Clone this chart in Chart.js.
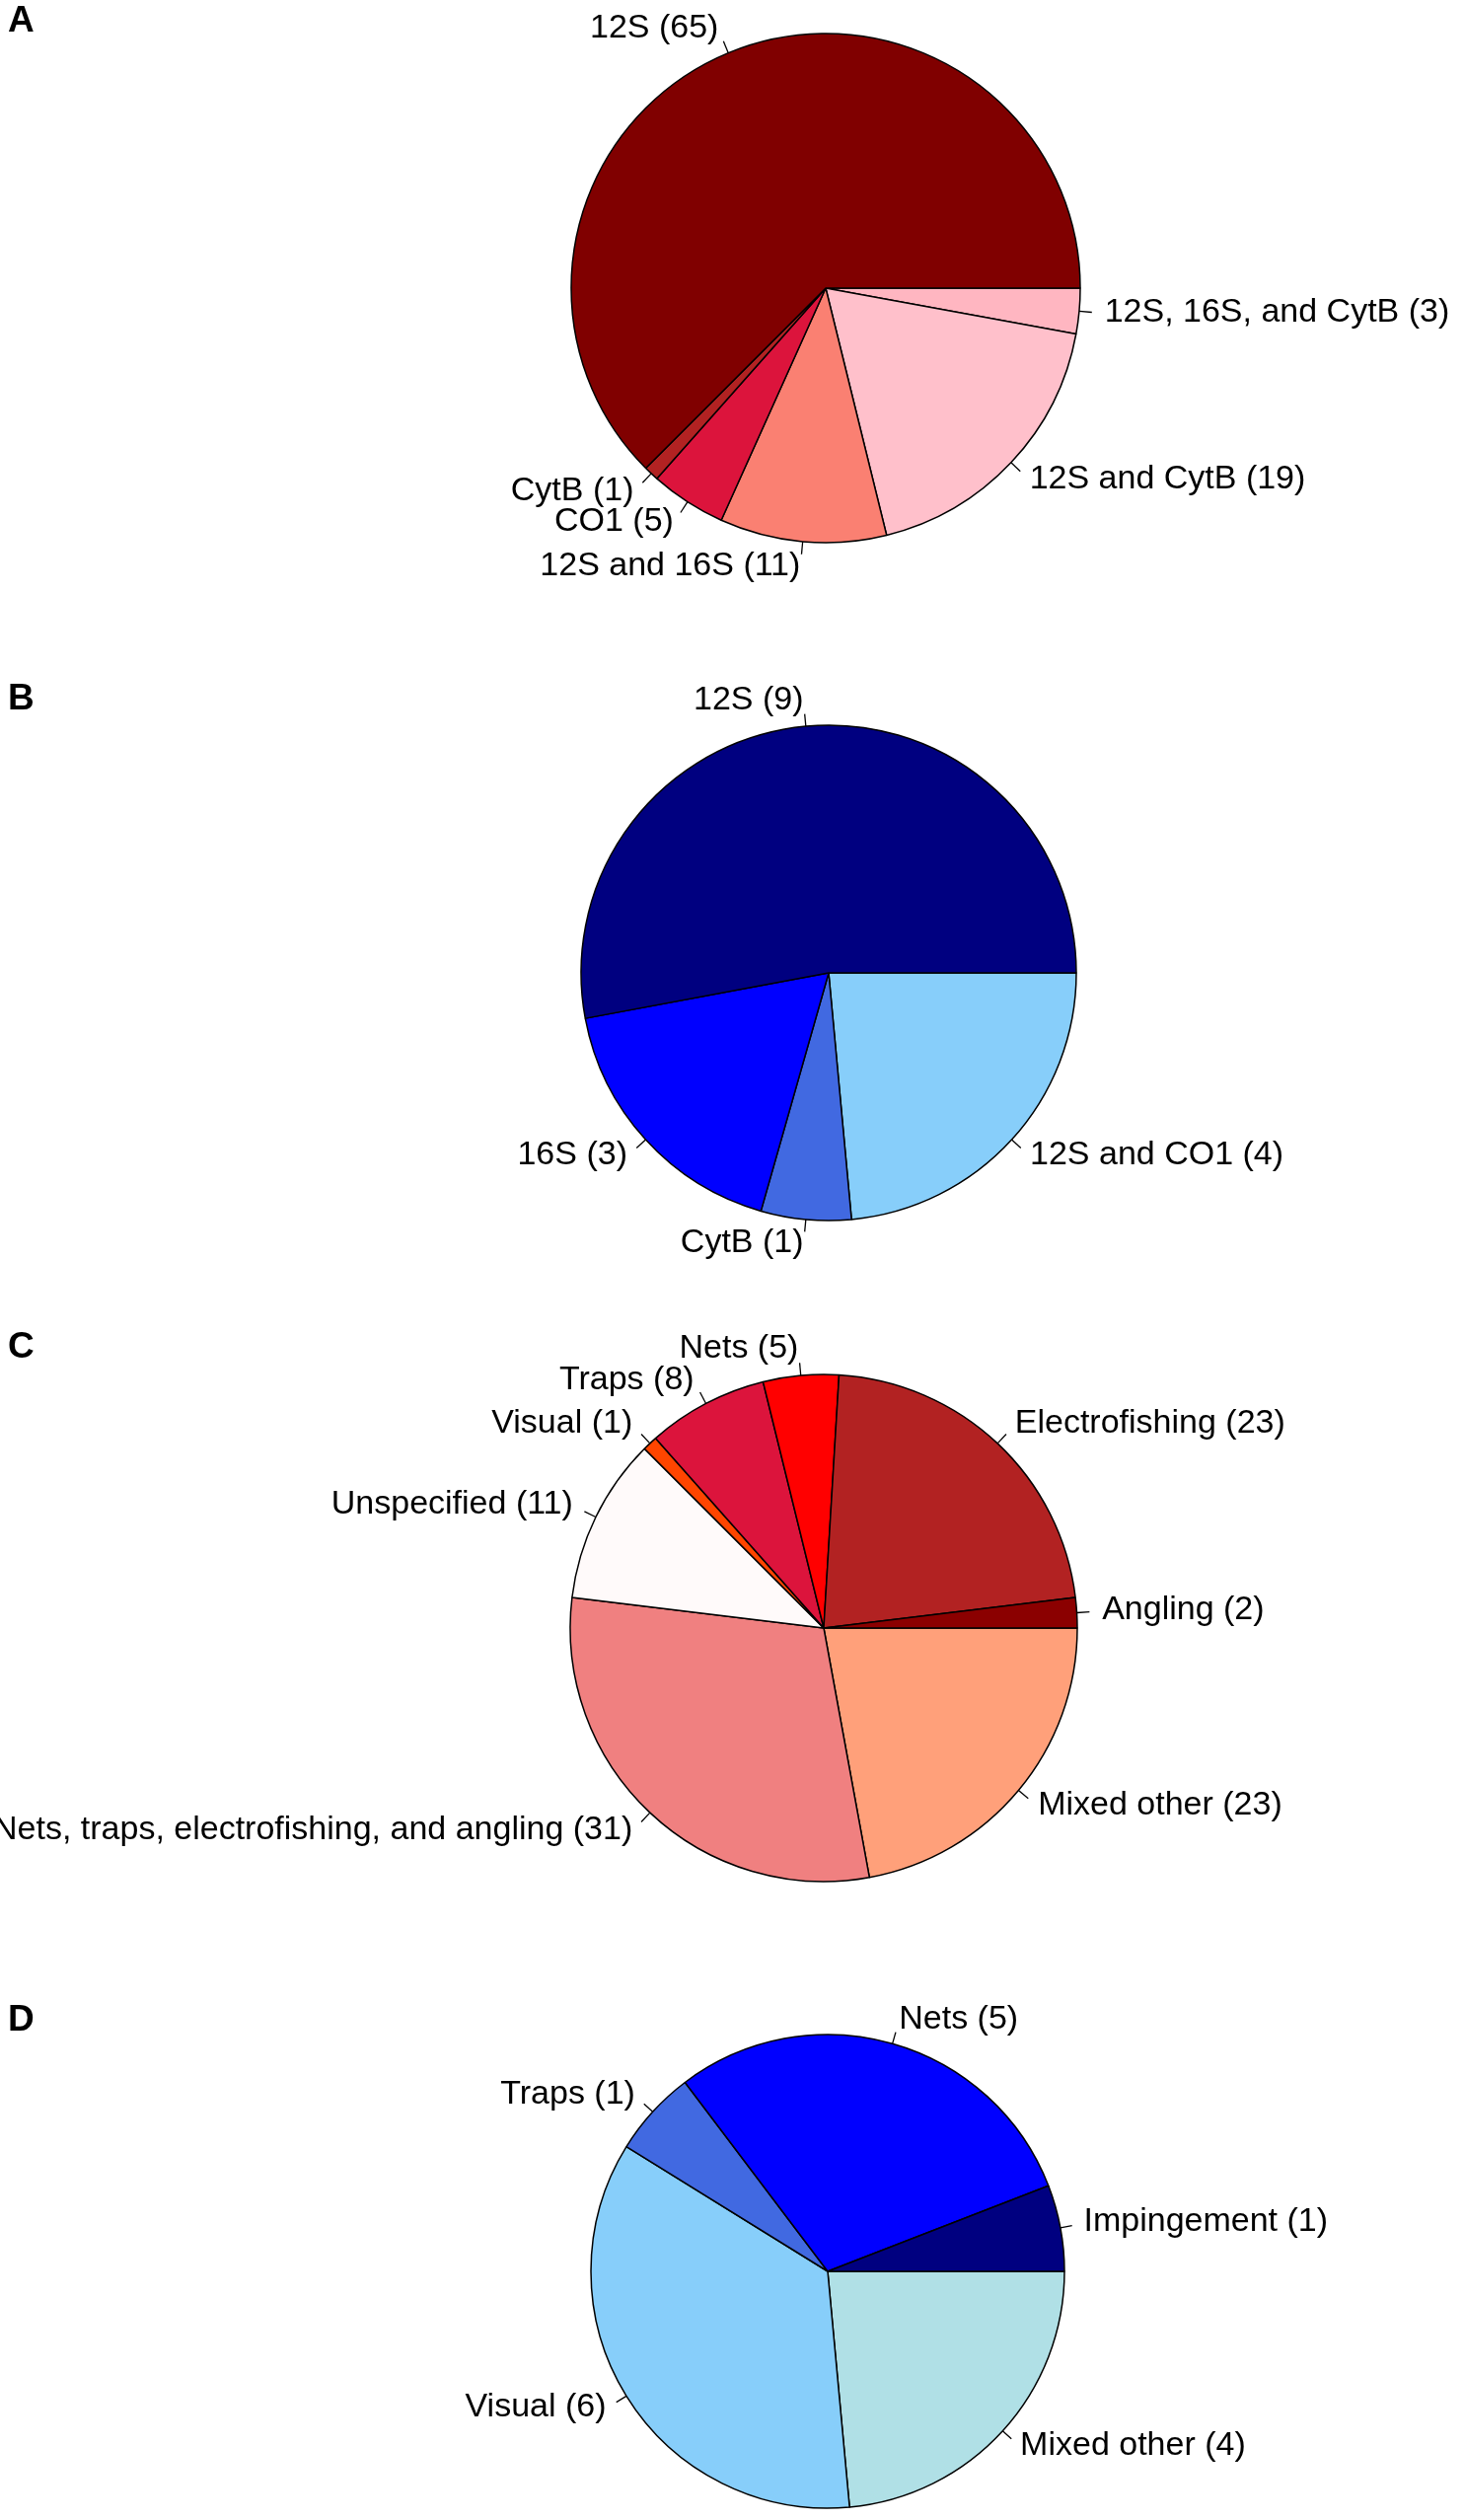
<!DOCTYPE html>
<html>
<head>
<meta charset="utf-8">
<script src="https://cdn.jsdelivr.net/npm/chart.js@4.4.1/dist/chart.umd.min.js"></script>
<style>
  body { margin: 0; background: #fff; }
  canvas { position: absolute; left: 0; }
</style>
</head>
<body>
<canvas id="chartA" width="1484" height="650" style="top:0px"></canvas>
<canvas id="chartB" width="1484" height="650" style="top:650px"></canvas>
<canvas id="chartC" width="1484" height="650" style="top:1300px"></canvas>
<canvas id="chartD" width="1484" height="604" style="top:1950px"></canvas>
<script>
// slices listed clockwise starting at 3 o'clock (same look as R's pie going counter-clockwise)

// A - markers, eDNA studies
const markersA = ["12S, 16S, and CytB", "12S and CytB", "12S and 16S", "CO1", "CytB", "12S"];
const countsA = [3, 19, 11, 5, 1, 65];
const colorsA = ["#FFB6C1", "#FFC0CB", "#FA8072", "#DC143C", "#B22222", "#800000"];

// B - markers
const markersB = ["12S and CO1", "CytB", "16S", "12S"];
const countsB = [4, 1, 3, 9];
const colorsB = ["#87CEFA", "#4169E1", "#0000FF", "#000080"];

// C - sampling methods
const methodsC = ["Mixed other", "Nets, traps, electrofishing, and angling", "Unspecified", "Visual", "Traps", "Nets", "Electrofishing", "Angling"];
const countsC = [23, 31, 11, 1, 8, 5, 23, 2];
const colorsC = ["#FFA07A", "#F08080", "#FFFAFA", "#FF4500", "#DC143C", "#FF0000", "#B22222", "#8B0000"];

// D - sampling methods
const methodsD = ["Mixed other", "Visual", "Traps", "Nets", "Impingement"];
const countsD = [4, 6, 1, 5, 1];
const colorsD = ["#B0E0E6", "#87CEFA", "#4169E1", "#0000FF", "#000080"];

const FONT = "'Liberation Sans', Arial, Helvetica, sans-serif";

// labels outside the pie with a short tick, like base R pie()
const pieLabels = {
  id: "pieLabels",
  afterDraw(chart, args, opts) {
    const ctx = chart.ctx;
    const meta = chart.getDatasetMeta(0);
    const values = chart.data.datasets[0].data;
    ctx.save();
    ctx.strokeStyle = "#000";
    ctx.fillStyle = "#000";
    ctx.lineWidth = 1.3;
    ctx.font = "34px " + FONT;
    ctx.textBaseline = "alphabetic";
    meta.data.forEach((arc, i) => {
      const p = arc.getProps(["x", "y", "startAngle", "endAngle", "outerRadius"], true);
      const mid = (p.startAngle + p.endAngle) / 2;
      const c = Math.cos(mid);
      const s = Math.sin(mid);
      const r = p.outerRadius;
      ctx.beginPath();
      ctx.moveTo(p.x + r * c, p.y + r * s);
      ctx.lineTo(p.x + 1.05 * r * c, p.y + 1.05 * r * s);
      ctx.stroke();
      ctx.textAlign = c < 0 ? "right" : "left";
      ctx.fillText(chart.data.labels[i] + " (" + values[i] + ")", p.x + 1.1 * r * c, p.y + 1.1 * r * s + 8);
    });
    // panel letter
    ctx.font = "bold 37px " + FONT;
    ctx.textAlign = "left";
    ctx.fillText(opts.letter, 8, opts.letterY);
    ctx.restore();
  },
};

function makePie(id, names, counts, colors, box) {
  const canvas = document.getElementById(id);
  const W = canvas.width;
  const H = canvas.height;
  new Chart(canvas.getContext("2d"), {
    type: "pie",
    data: {
      labels: names,
      datasets: [
        {
          data: counts,
          backgroundColor: colors,
          borderColor: "#000",
          borderWidth: 1.5,
          clip: false,
        },
      ],
    },
    options: {
      responsive: false,
      animation: false,
      events: [],
      rotation: 90,
      radius: box.r,
      layout: {
        padding: {
          left: Math.max(0, 2 * box.cx - W),
          right: Math.max(0, W - 2 * box.cx),
          top: Math.max(0, 2 * box.cy - H),
          bottom: Math.max(0, H - 2 * box.cy),
        },
      },
      plugins: {
        legend: { display: false },
        tooltip: { enabled: false },
        pieLabels: { letter: box.letter, letterY: box.letterY },
      },
    },
    plugins: [pieLabels],
  });
}

makePie("chartA", markersA, countsA, colorsA, { cx: 837, cy: 292, r: 258, letter: "A", letterY: 32 });
makePie("chartB", markersB, countsB, colorsB, { cx: 840, cy: 336, r: 251, letter: "B", letterY: 69 });
makePie("chartC", methodsC, countsC, colorsC, { cx: 835, cy: 350, r: 257, letter: "C", letterY: 76 });
makePie("chartD", methodsD, countsD, colorsD, { cx: 839, cy: 352, r: 240, letter: "D", letterY: 108 });
</script>
</body>
</html>
